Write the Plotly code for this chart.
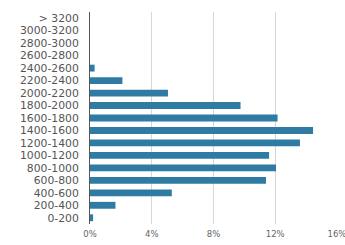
import plotly.graph_objects as go

categories = ["> 3200", "3000-3200", "2800-3000", "2600-2800", "2400-2600", "2200-2400",
              "2000-2200", "1800-2000", "1600-1800", "1400-1600", "1200-1400",
              "1000-1200", "800-1000", "600-800", "400-600", "200-400", "0-200"]
values = [0.0, 0.0, 0.0, 0.0, 0.3, 2.1, 5.05, 9.75, 12.15, 14.45, 13.6,
          11.6, 12.05, 11.4, 5.3, 1.65, 0.2]
x_ticks = [0, 4, 8, 12, 16]
x_tick_labels = ["0%", "4%", "8%", "12%", "16%"]

fig = go.Figure(go.Bar(
    y=categories, x=values, orientation="h",
    marker=dict(color="#2f7ba4", line=dict(width=0)),
))
fig.update_layout(
    width=345, height=245,
    margin=dict(l=89.5, r=8, t=12, b=20.5),
    paper_bgcolor="white", plot_bgcolor="white",
    bargap=0.45, showlegend=False,
    font=dict(family="DejaVu Sans, Verdana, sans-serif", size=10.5, color="#555"),
)
fig.update_xaxes(range=[0, 16], tickmode="array", tickvals=x_ticks, ticktext=x_tick_labels,
                 showgrid=True, gridcolor="#d6d6d6", gridwidth=1,
                 zeroline=False, showline=False, ticks="", automargin=False,
                 ticklabeloverflow="allow", ticklabelstandoff=3,
                 tickfont=dict(size=8.5, color="#666"), fixedrange=True)
fig.update_yaxes(categoryorder="array", categoryarray=categories[::-1],
                 tickmode="array", tickvals=categories, ticktext=categories,
                 showgrid=False, showline=True, linecolor="#555", linewidth=1,
                 ticks="", ticklabelstandoff=8, automargin=False,
                 tickfont=dict(size=10.8, color="#555"), fixedrange=True)
fig.write_html("out.html", config={"displayModeBar": False},
               post_script="document.body.style.margin='0';document.body.style.overflow='hidden';")
